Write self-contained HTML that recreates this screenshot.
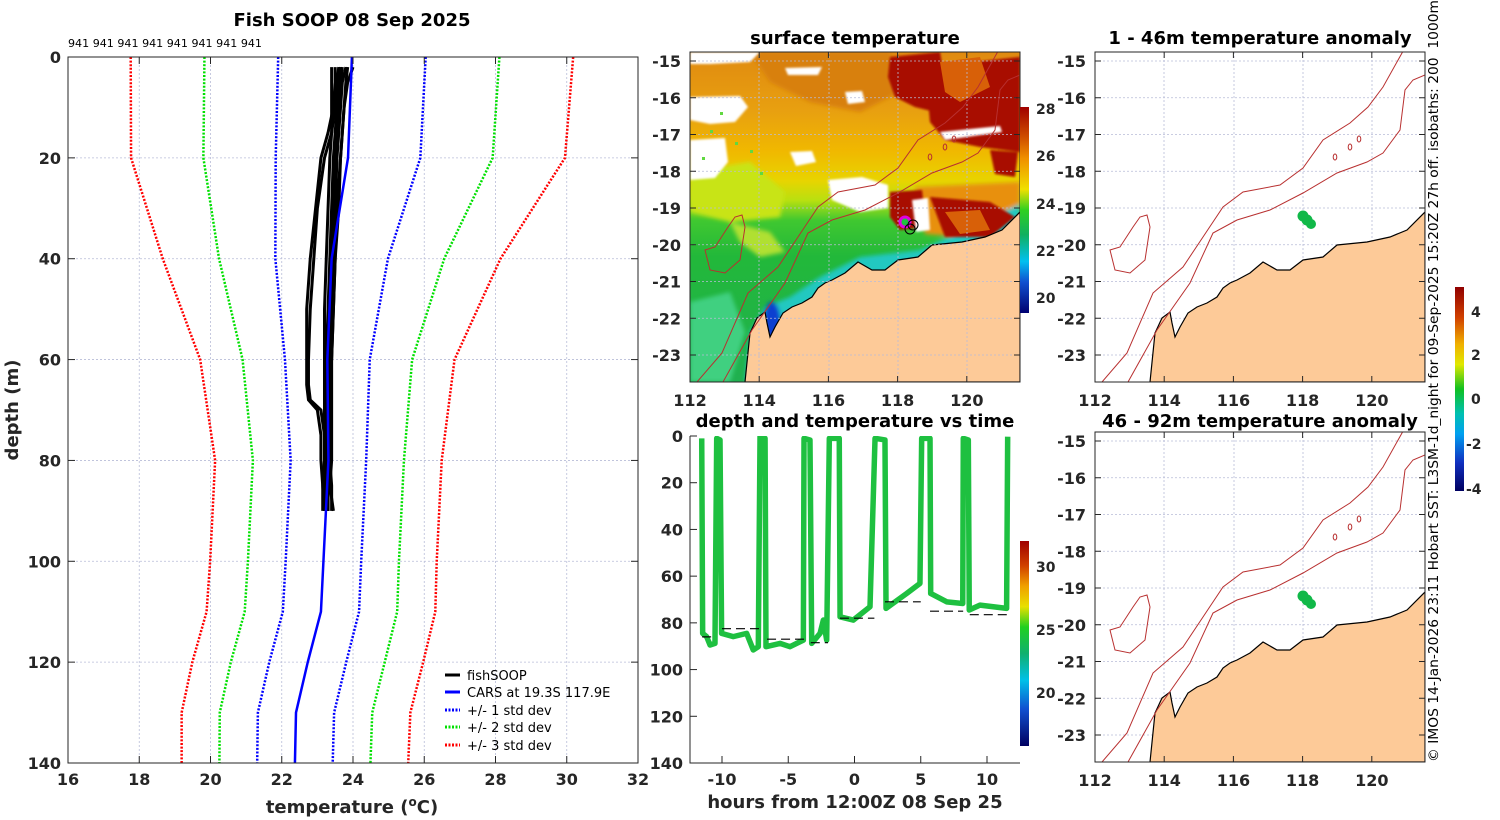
<!DOCTYPE html>
<html><head><meta charset="utf-8">
<style>
html,body{margin:0;padding:0;background:#fff;}
svg{display:block;font-family:"DejaVu Sans","Liberation Sans",sans-serif;}
.tk{font-size:16px;font-weight:bold;fill:#262626;}
.ttl{font-size:18px;font-weight:bold;fill:#000;}
.ax{font-size:18px;font-weight:bold;fill:#262626;}
.grid{stroke:#b8bcd8;stroke-width:0.8;stroke-dasharray:2,2;fill:none;}
</style></head>
<body>
<svg id="fig" width="1500" height="820" viewBox="0 0 1500 820" xmlns="http://www.w3.org/2000/svg">
<defs>
  <clipPath id="clipL"><rect x="68" y="57" width="570" height="706"/></clipPath>
  <clipPath id="clipM"><rect x="0" y="0" width="330" height="330"/></clipPath>
  <clipPath id="clipT"><rect x="690" y="436" width="330" height="327"/></clipPath>
  <filter id="blur2"><feGaussianBlur stdDeviation="2"/></filter>
  <filter id="blur1"><feGaussianBlur stdDeviation="1"/></filter>
  <linearGradient id="sstBase" x1="0" y1="0" x2="0" y2="1">
    <stop offset="0" stop-color="#e08a10"/>
    <stop offset="0.18" stop-color="#e8a010"/>
    <stop offset="0.30" stop-color="#f0b800"/>
    <stop offset="0.39" stop-color="#e8d400"/>
    <stop offset="0.45" stop-color="#b8e010"/>
    <stop offset="0.51" stop-color="#40c830"/>
    <stop offset="0.62" stop-color="#22b83a"/>
    <stop offset="1" stop-color="#20b050"/>
  </linearGradient>
  <linearGradient id="cbSST" x1="0" y1="0" x2="0" y2="1">
    <stop offset="0" stop-color="#a00000"/>
    <stop offset="0.15" stop-color="#d05000"/>
    <stop offset="0.25" stop-color="#f09000"/>
    <stop offset="0.40" stop-color="#f0e000"/>
    <stop offset="0.50" stop-color="#30d020"/>
    <stop offset="0.62" stop-color="#10b060"/>
    <stop offset="0.75" stop-color="#00c0f0"/>
    <stop offset="0.85" stop-color="#1050d0"/>
    <stop offset="1" stop-color="#000070"/>
  </linearGradient>
  <linearGradient id="cbT" x1="0" y1="0" x2="0" y2="1">
    <stop offset="0" stop-color="#a00000"/>
    <stop offset="0.12" stop-color="#d04000"/>
    <stop offset="0.22" stop-color="#f0a000"/>
    <stop offset="0.32" stop-color="#e8e000"/>
    <stop offset="0.42" stop-color="#20d020"/>
    <stop offset="0.55" stop-color="#10b070"/>
    <stop offset="0.68" stop-color="#00c0e8"/>
    <stop offset="0.82" stop-color="#1050d0"/>
    <stop offset="1" stop-color="#000060"/>
  </linearGradient>
  <linearGradient id="cbA" x1="0" y1="0" x2="0" y2="1">
    <stop offset="0" stop-color="#900000"/>
    <stop offset="0.15" stop-color="#d04000"/>
    <stop offset="0.28" stop-color="#f0b000"/>
    <stop offset="0.38" stop-color="#e0e800"/>
    <stop offset="0.5" stop-color="#10c020"/>
    <stop offset="0.62" stop-color="#00c0b0"/>
    <stop offset="0.72" stop-color="#00a0f0"/>
    <stop offset="0.86" stop-color="#1030c0"/>
    <stop offset="1" stop-color="#000060"/>
  </linearGradient>
  <g id="coast">
    <polygon fill="#fdca98" stroke="#000" stroke-width="1.2" points="55,330 60,281 67,266 75,260 77,271 80,285 85,275 93,261 102,255 112,251 122,245 128,236 135,231 142,228 155,221 168,210 182,218 195,218 208,208 228,205 242,193 262,191 272,190 295,185 312,178 330,160 330,330"/>
  </g>
  <g id="isob" fill="none" stroke="#b83030" stroke-width="1">
    <polyline points="7,330 32,301 58,241 88,215 108,185 128,155 148,140 185,133 208,116 228,88 255,71 273,55 288,35 307,1 310,-5"/>
    <polyline points="33,330 62,278 95,231 118,181 142,168 175,158 208,141 242,121 272,110 288,101 305,78 310,38 318,28 330,23"/>
    <polygon points="52,163 55,175 50,208 35,221 20,218 15,198 25,195 38,175 45,165"/>
    <ellipse cx="240" cy="105" rx="1.8" ry="3"/>
    <ellipse cx="255" cy="95" rx="1.8" ry="3"/>
    <ellipse cx="264" cy="87" rx="1.8" ry="3"/>
  </g>
  <g id="mapgrid" class="grid">
    <line x1="69" y1="0" x2="69" y2="330"/><line x1="139" y1="0" x2="139" y2="330"/>
    <line x1="208" y1="0" x2="208" y2="330"/><line x1="277" y1="0" x2="277" y2="330"/>
    <line x1="0" y1="9" x2="330" y2="9"/><line x1="0" y1="45.75" x2="330" y2="45.75"/>
    <line x1="0" y1="82.5" x2="330" y2="82.5"/><line x1="0" y1="119.25" x2="330" y2="119.25"/>
    <line x1="0" y1="156" x2="330" y2="156"/><line x1="0" y1="192.75" x2="330" y2="192.75"/>
    <line x1="0" y1="229.5" x2="330" y2="229.5"/><line x1="0" y1="266.25" x2="330" y2="266.25"/>
    <line x1="0" y1="303" x2="330" y2="303"/>
  </g>
</defs>

<!-- ============ LEFT PROFILE PLOT ============ -->
<text class="ttl" x="352" y="26" text-anchor="middle">Fish SOOP 08 Sep 2025</text>
<text x="68" y="47" font-size="11" textLength="194" lengthAdjust="spacingAndGlyphs">941 941 941 941 941 941 941 941</text>
<g id="leftGrid"></g>
<g id="leftLines" clip-path="url(#clipL)"></g>
<rect x="68" y="57" width="570" height="706" fill="none" stroke="#262626" stroke-width="1"/>
<g id="leftTicks"></g>
<text class="ax" x="352" y="813" text-anchor="middle">temperature (<tspan font-size="12" dy="-7">o</tspan><tspan dy="7">C)</tspan></text>
<text class="ax" transform="translate(18,410) rotate(-90)" text-anchor="middle">depth (m)</text>
<g font-size="13" fill="#000">
  <g><line x1="445" y1="675" x2="460" y2="675" stroke="#000" stroke-width="3"/><text x="467" y="680">fishSOOP</text></g>
  <g><line x1="445" y1="692" x2="460" y2="692" stroke="#0000ff" stroke-width="3"/><text x="467" y="697">CARS at 19.3S 117.9E</text></g>
  <g><line x1="445" y1="710" x2="460" y2="710" stroke="#0000ff" stroke-width="3" stroke-dasharray="2,1.5"/><text x="467" y="715">+/- 1 std dev</text></g>
  <g><line x1="445" y1="727" x2="460" y2="727" stroke="#00e000" stroke-width="3" stroke-dasharray="2,1.5"/><text x="467" y="732">+/- 2 std dev</text></g>
  <g><line x1="445" y1="745" x2="460" y2="745" stroke="#ff0000" stroke-width="3" stroke-dasharray="2,1.5"/><text x="467" y="750">+/- 3 std dev</text></g>
</g>

<!-- ============ SURFACE TEMPERATURE MAP ============ -->
<text class="ttl" x="855" y="44" text-anchor="middle">surface temperature</text>
<g transform="translate(690,52)">
  <g clip-path="url(#clipM)">
    <rect x="0" y="0" width="330" height="330" fill="url(#sstBase)"/>
    <g filter="url(#blur2)">
      <polygon fill="#c8e418" points="0,120 60,110 95,140 90,165 40,170 0,160"/>
      <polygon fill="#e89010" points="225,135 330,130 330,165 285,186 235,182"/>
      <polygon fill="#20c8c0" points="55,330 60,280 75,255 100,245 130,225 170,205 230,198 330,152 330,182 240,216 170,228 120,256 95,292 82,330"/>
      <ellipse cx="82" cy="272" rx="9" ry="22" fill="#1040d0"/>
      <polygon fill="#40d080" points="0,250 40,240 55,280 40,330 0,330"/>
      <polygon fill="#b0e030" points="40,170 80,180 95,200 70,205 50,190"/>
      <polygon fill="#d88010" points="60,0 200,0 210,40 170,60 120,50 80,30"/>
    </g>
    <g fill="#a80800" filter="url(#blur1)">
      <polygon points="200,5 250,0 255,30 245,60 225,55 205,45 198,25"/>
      <polygon points="235,15 330,5 330,100 290,95 255,88 240,70"/>
      <polygon points="200,140 232,138 236,175 210,178 200,165"/>
      <polygon points="240,145 300,150 325,165 300,185 255,185"/>
      <polygon points="300,98 328,100 325,125 305,122"/>
    </g>
    <g fill="#d86008">
      <polygon points="250,10 290,5 300,35 270,50 255,40"/>
      <polygon points="255,160 290,158 300,178 270,182"/>
    </g>
    <g fill="#ffffff" filter="url(#blur1)">
      <polygon points="0,0 70,0 60,10 20,12 0,12"/>
      <polygon points="0,45 50,44 58,55 45,70 20,72 0,68"/>
      <polygon points="0,88 35,86 38,110 25,126 0,128"/>
      <polygon points="100,100 122,99 126,110 106,114"/>
      <polygon points="138,128 172,125 198,133 198,156 170,160 142,148"/>
      <polygon points="155,40 172,39 175,50 158,52"/>
      <polygon points="95,16 132,15 128,23 98,23"/>
      <polygon points="250,80 310,74 312,80 255,88"/>
      <polygon points="222,148 238,146 240,178 226,180"/>
    </g>
    <g fill="#60d840">
      <rect x="20" y="78" width="3" height="3"/><rect x="45" y="90" width="3" height="3"/><rect x="12" y="105" width="3" height="3"/>
      <rect x="60" y="98" width="3" height="3"/><rect x="30" y="60" width="3" height="3"/><rect x="70" y="120" width="3" height="3"/>
    </g>
    <use href="#coast"/>
    <use href="#mapgrid"/>
    <use href="#isob"/>
    <circle cx="215" cy="170" r="5" fill="#1fc040" stroke="#e000e0" stroke-width="3"/>
    <circle cx="223" cy="173" r="5" fill="none" stroke="#000" stroke-width="1"/>
    <circle cx="220" cy="177" r="5" fill="none" stroke="#000" stroke-width="1"/>
  </g>
  <rect x="0" y="0" width="330" height="330" fill="none" stroke="#262626"/>
</g>
<g id="mapTicks1"></g>
<rect x="1020" y="107" width="9" height="206" fill="url(#cbSST)"/>
<g class="tk" font-size="14">
  <text x="1036" y="114" font-size="14">28</text><text x="1036" y="161" font-size="14">26</text><text x="1036" y="209" font-size="14">24</text><text x="1036" y="256" font-size="14">22</text><text x="1036" y="303" font-size="14">20</text>
</g>

<!-- ============ DEPTH vs TIME ============ -->
<text class="ttl" x="855" y="427" text-anchor="middle">depth and temperature vs time</text>
<g id="tsMarks" clip-path="url(#clipT)"></g>
<path d="M690,436 V763 H1020" fill="none" stroke="#262626"/>
<g id="tsTicks"></g>
<text class="ax" x="855" y="808" text-anchor="middle">hours from 12:00Z 08 Sep 25</text>
<rect x="1020" y="541" width="9" height="205" fill="url(#cbT)"/>
<g class="tk">
  <text x="1036" y="572" font-size="14">30</text><text x="1036" y="635" font-size="14">25</text><text x="1036" y="698" font-size="14">20</text>
</g>

<!-- ============ ANOMALY MAPS ============ -->
<text class="ttl" x="1260" y="44" text-anchor="middle">1 - 46m temperature anomaly</text>
<g transform="translate(1095,52)">
  <g clip-path="url(#clipM)">
    <use href="#mapgrid"/><use href="#coast"/><use href="#isob"/>
    <g fill="#10b848"><circle cx="208" cy="164" r="5.5"/><circle cx="212" cy="168" r="5.5"/><circle cx="216" cy="172" r="5"/></g>
  </g>
  <rect x="0" y="0" width="330" height="330" fill="none" stroke="#262626"/>
</g>
<text class="ttl" x="1260" y="427" text-anchor="middle">46 - 92m temperature anomaly</text>
<g transform="translate(1095,432)">
  <g clip-path="url(#clipM)">
    <use href="#mapgrid"/><use href="#coast"/><use href="#isob"/>
    <g fill="#10b848"><circle cx="208" cy="164" r="5.5"/><circle cx="212" cy="168" r="5.5"/><circle cx="216" cy="172" r="5"/></g>
  </g>
  <rect x="0" y="0" width="330" height="330" fill="none" stroke="#262626"/>
</g>
<g id="mapTicks2"></g>
<rect x="1455" y="287" width="9" height="204" fill="url(#cbA)"/>
<g class="tk">
  <text x="1471" y="317" font-size="14">4</text><text x="1471" y="360" font-size="14">2</text><text x="1471" y="404" font-size="14">0</text><text x="1466" y="449" font-size="14">-2</text><text x="1466" y="494" font-size="14">-4</text>
</g>
<text transform="translate(1438,762) rotate(-90)" font-size="13" fill="#000" textLength="762" lengthAdjust="spacingAndGlyphs">© IMOS 14-Jan-2026 23:11 Hobart SST: L3SM-1d_night for 09-Sep-2025 15:20Z 27h off. isobaths: 200&#160;&#160;1000m</text>

<script>
// ---------- profile data ----------
const carsDepth = [0,20,40,60,80,100,110,120,130,140];
const carsMean  = [23.97,23.86,23.4,23.28,23.31,23.17,23.1,22.73,22.4,22.37];
const carsSd    = [2.07,2.03,1.58,1.19,1.06,1.06,1.07,1.08,1.07,1.06];
const fishDepth = [2,5,10,15,20,30,40,50,60,65,68,70,75,80,85,90];
const fish1 = [23.5,23.5,23.45,23.3,23.1,22.95,22.8,22.7,22.7,22.7,22.75,23.0,23.1,23.1,23.15,23.15];
const fish2 = [23.6,23.55,23.5,23.4,23.2,23.0,22.9,22.8,22.75,22.75,22.8,23.1,23.2,23.2,23.15,23.2];
const fish3 = [23.4,23.4,23.4,23.4,23.35,23.3,23.25,23.2,23.2,23.2,23.2,23.2,23.2,23.2,23.2,23.2];
const fish4 = [23.65,23.6,23.55,23.5,23.45,23.4,23.35,23.3,23.25,23.25,23.25,23.25,23.25,23.25,23.3,23.3];
const fish5 = [23.8,23.7,23.65,23.6,23.55,23.5,23.45,23.4,23.35,23.3,23.3,23.3,23.35,23.35,23.4,23.4];
const fish6 = [23.85,23.8,23.75,23.7,23.65,23.55,23.5,23.45,23.4,23.35,23.35,23.35,23.35,23.35,23.3,23.3];
const fish7 = [24.0,23.85,23.75,23.7,23.65,23.6,23.5,23.45,23.4,23.4,23.4,23.4,23.4,23.4,23.35,23.45];
const fish8 = [23.7,23.65,23.6,23.55,23.5,23.45,23.4,23.35,23.3,23.3,23.3,23.3,23.3,23.3,23.25,23.3];
const tempTicks = [16,18,20,22,24,26,28,30,32];
const depthTicks = [0,20,40,60,80,100,120,140];
// ---------- time series data ----------
const tsHours = [-11.53,-11.46,-11.16,-10.9,-10.53,-10.4,-10.15,-10.03,-9.15,-8.14,-7.64,-7.26,-7.13,-6.75,-6.68,-5.62,-4.87,-3.86,-3.81,-3.36,-3.23,-2.6,-2.35,-2.1,-1.9,-1.15,-1.09,-0.09,1.17,1.55,2.3,2.38,3.94,4.94,5.07,5.7,5.75,6.96,8.17,8.21,8.59,8.66,9.47,11.48,11.56];
const tsDepth = [1.0,84.5,85.9,89.5,88.8,1.0,1.7,84.5,85.9,84.5,91.6,90.2,0.3,1.0,90.2,88.8,90.2,87.4,1.0,1.7,88.8,84.5,78.8,87.4,1.0,1.0,77.4,78.8,73.1,1.0,1.7,73.8,67.4,63.1,1.0,1.0,67.4,71.0,71.7,1.0,1.7,74.5,72.4,73.8,0.3];
const segStart = [-11.5,-10.0,-6.6,-3.3,-1.1,2.3,5.7,8.7];
const segEnd   = [-10.5,-7.2,-3.8,-2.0,1.5,5.0,8.2,11.5];
const segDepth = [86,82.5,87,88.5,78,71,75,76.5];
const hourTicks = [-10,-5,0,5,10];
const tsDepthTicks = [0,20,40,60,80,100,120,140];
// ---------- map ticks ----------
const lonTicks = [112,114,116,118,120];
const latTicks = [-15,-16,-17,-18,-19,-20,-21,-22,-23];

const NS = "http://www.w3.org/2000/svg";
function mk(parent, tag, attrs){ const e=document.createElementNS(NS,tag); for(const k in attrs) e.setAttribute(k,attrs[k]); parent.appendChild(e); return e; }

const xT = t => 68 + (t-16)*(570/16);
const yD = d => 57 + d*(706/140);
const xH = h => 854.5 + h*13.25;
const yT = d => 436 + d*(327/140);
const xLon = (lon, off) => off + (lon-112)*34.6;
const yLat = (lat, off) => off + (-15-lat)*36.75;

const lg = document.getElementById('leftGrid'), lt = document.getElementById('leftTicks');
tempTicks.forEach(t=>{
  if(t>16 && t<32){ const g=mk(lg,'line',{x1:xT(t),y1:57,x2:xT(t),y2:763,class:'grid'});
    
     }
  mk(lt,'line',{x1:xT(t),y1:763,x2:xT(t),y2:756,stroke:'#262626'});
  mk(lt,'line',{x1:xT(t),y1:57,x2:xT(t),y2:64,stroke:'#262626'});
  const tx=mk(lt,'text',{x:xT(t),y:785,class:'tk','text-anchor':'middle'}); tx.textContent=t;
  
  
});
depthTicks.forEach(d=>{
  if(d>0 && d<140){ const g=mk(lg,'line',{x1:68,y1:yD(d),x2:638,y2:yD(d),class:'grid'});
    
     }
  mk(lt,'line',{x1:68,y1:yD(d),x2:75,y2:yD(d),stroke:'#262626'});
  mk(lt,'line',{x1:638,y1:yD(d),x2:631,y2:yD(d),stroke:'#262626'});
  const tx=mk(lt,'text',{x:61,y:yD(d)+6,class:'tk','text-anchor':'end'}); tx.textContent=d;
  
  
});

const ll = document.getElementById('leftLines');
const sdCols = {1:'#0000ff',2:'#00e000',3:'#ff0000'};
[1,2,3].forEach(k=>{
  [-1,1].forEach(s=>{
    const pts = carsDepth.map((d,i)=>xT(carsMean[i]+s*k*carsSd[i])+','+yD(d)).join(' ');
    const p=mk(ll,'polyline',{points:pts,fill:'none',stroke:sdCols[k],'stroke-width':2.5,'stroke-dasharray':'2,1.6'});
    
    
  });
});
[fish1,fish2,fish3,fish4,fish5,fish6,fish7,fish8].forEach((f,j)=>{
  const pts = fishDepth.map((d,i)=>xT(f[i])+','+yD(d)).join(' ');
  const p=mk(ll,'polyline',{points:pts,fill:'none',stroke:'#000','stroke-width':3,'stroke-linejoin':'round'});
  
  
});
{
  const pts = carsDepth.map((d,i)=>xT(carsMean[i])+','+yD(d)).join(' ');
  const p=mk(ll,'polyline',{points:pts,fill:'none',stroke:'#0000ff','stroke-width':2.5});
  
  
}

const tm = document.getElementById('tsMarks'), tt=document.getElementById('tsTicks');
{
  const pts = tsHours.map((h,i)=>xH(h)+','+yT(tsDepth[i])).join(' ');
  const p=mk(tm,'polyline',{points:pts,fill:'none',stroke:'#1ec040','stroke-width':5.5,'stroke-linejoin':'round'});
  
  
}
segStart.forEach((s,i)=>{
  const l=mk(tm,'line',{x1:xH(s),y1:yT(segDepth[i]),x2:xH(segEnd[i]),y2:yT(segDepth[i]),stroke:'#000','stroke-width':1.2,'stroke-dasharray':'9,5'});
  
  
});
hourTicks.forEach(h=>{
  mk(tt,'line',{x1:xH(h),y1:763,x2:xH(h),y2:756,stroke:'#262626'});
  const tx=mk(tt,'text',{x:xH(h),y:785,class:'tk','text-anchor':'middle'}); tx.textContent=h;
  
  
});
tsDepthTicks.forEach(d=>{
  mk(tt,'line',{x1:690,y1:yT(d),x2:697,y2:yT(d),stroke:'#262626'});
  const tx=mk(tt,'text',{x:683,y:yT(d)+6,class:'tk','text-anchor':'end'}); tx.textContent=d;
  
  
});

function mapTicks(gid, xoff, ytop, latOff, xlabY){
  const g=document.getElementById(gid);
  lonTicks.forEach(lon=>{
    const x=xLon(lon,xoff);
    mk(g,'line',{x1:x,y1:ytop+330,x2:x,y2:ytop+324,stroke:'#262626'});
    mk(g,'line',{x1:x,y1:ytop,x2:x,y2:ytop+6,stroke:'#262626'});
    if(xlabY){ const tx=mk(g,'text',{x:x,y:xlabY,class:'tk','text-anchor':'middle'}); tx.textContent=lon;
      
       }
  });
  latTicks.forEach(lat=>{
    const y=yLat(lat,latOff);
    mk(g,'line',{x1:xoff,y1:y,x2:xoff+6,y2:y,stroke:'#262626'});
    mk(g,'line',{x1:xoff+330,y1:y,x2:xoff+324,y2:y,stroke:'#262626'});
    const tx=mk(g,'text',{x:xoff-9,y:y+6,class:'tk','text-anchor':'end'}); tx.textContent=lat;
    
    
  });
}
mapTicks('mapTicks1',690,52,61,406);
mapTicks('mapTicks2',1095,52,61,406);
mapTicks('mapTicks2',1095,432,441,786);
</script>
</svg>
</body></html>
